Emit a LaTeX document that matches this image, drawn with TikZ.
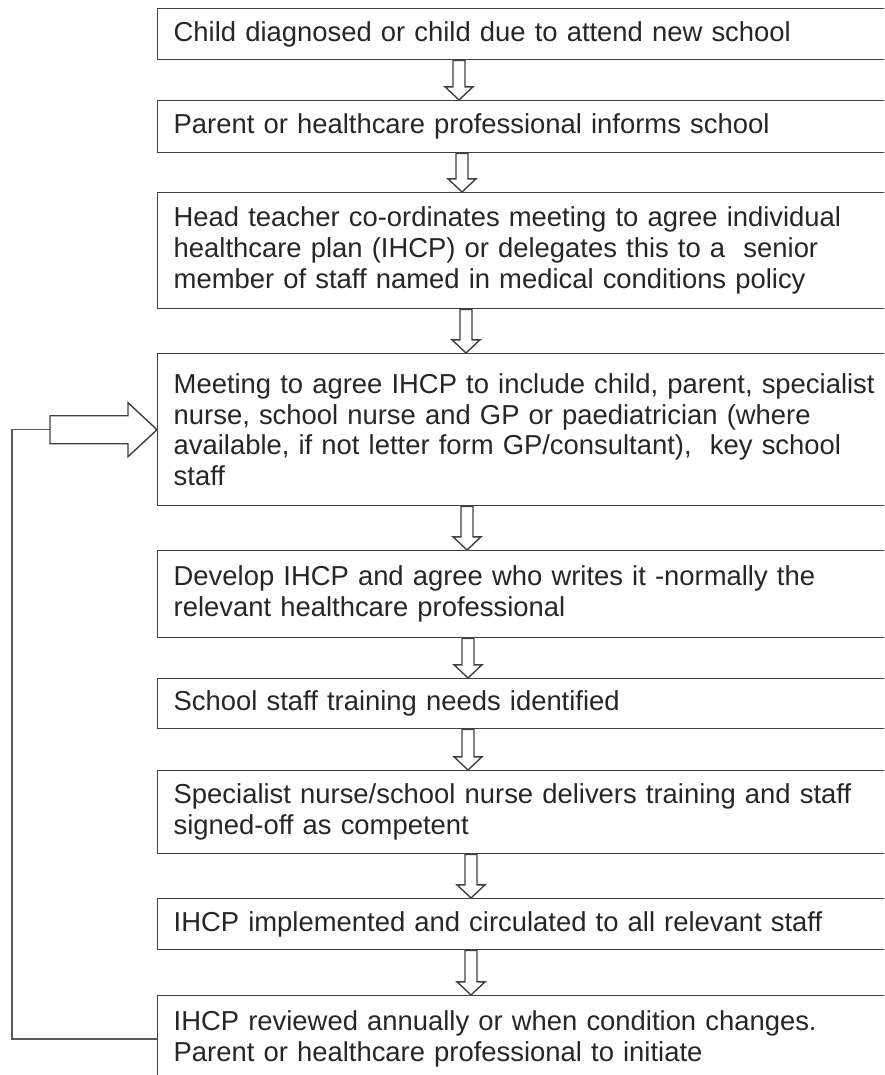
\documentclass[tikz,border=0pt]{standalone}
\usepackage{fontspec}
\setmainfont{Liberation Sans}
\usepackage{tikz}
\usetikzlibrary{calc,positioning}

\tikzset{
  stepbox/.style={draw=black!75, line width=1pt, anchor=north west, align=left,
    text width=17.8cm, inner xsep=0.4cm, inner ysep=0pt, text=black!85,
    font=\fontsize{19.5}{22}\selectfont},
  hollow/.style={draw=black!75, line width=1pt, line join=miter},
  feedback/.style={draw=black!65, line width=1.1pt}
}

% hollow block arrow from the bottom of one box to the top of the next
\newcommand{\blockarrow}[3]{%
  \draw[hollow] let \p1=($(#1.south west)+(#3,0)$), \p2=($(#2.north west)+(#3,0)$) in
    (\x1-0.15cm,\y1) -- (\x1+0.15cm,\y1) -- (\x1+0.15cm,\y2+0.33cm) -- (\x1+0.35cm,\y2+0.33cm)
    -- (\x2,\y2) -- (\x1-0.35cm,\y2+0.33cm) -- (\x1-0.15cm,\y2+0.33cm) -- cycle;}

\begin{document}
\begin{tikzpicture}
\useasboundingbox (0,0) rectangle (22.1,-26.875);
\clip (0,0) rectangle (22.1,-26.875);

% boxes
\node[stepbox, minimum height=1.275cm] (b1) at (3.925,-0.2) {Child diagnosed or child due to attend new school};
\node[stepbox, minimum height=1.3cm] (b2) at (3.925,-2.5) {Parent or healthcare professional informs school};
\node[stepbox, minimum height=2.9cm] (b3) at (3.925,-4.8) {Head teacher co-ordinates meeting to agree individual\\
  healthcare plan (IHCP) or delegates this to a\ \ senior\\
  member of staff named in medical conditions policy};
\node[stepbox, minimum height=3.8cm] (b4) at (3.925,-8.825) {Meeting to agree IHCP to include child, parent, specialist\\
  nurse, school nurse and GP or paediatrician (where\\
  available, if not letter form GP/consultant),\ \ key school\\
  staff};
\node[stepbox, minimum height=2.175cm] (b5) at (3.925,-13.75) {Develop IHCP and agree who writes it -normally the\\
  relevant healthcare professional};
\node[stepbox, minimum height=1.25cm] (b6) at (3.925,-16.95) {School staff training needs identified};
\node[stepbox, minimum height=2.075cm] (b7) at (3.925,-19.25) {Specialist nurse/school nurse delivers training and staff\\
  signed-off as competent};
\node[stepbox, minimum height=1.275cm] (b8) at (3.925,-22.45) {IHCP implemented and circulated to all relevant staff};
\node[stepbox, minimum height=2.175cm] (b9) at (3.925,-24.875) {IHCP reviewed annually or when condition changes.\\
  Parent or healthcare professional to initiate};

% arrows
\foreach \from/\to/\off in {b1/b2/7.55, b2/b3/7.625, b3/b4/7.725, b4/b5/7.75,
                            b5/b6/7.775, b6/b7/7.775, b7/b8/7.85, b8/b9/7.85}
  \blockarrow{\from}{\to}{\off};

% loop back
\coordinate (corner) at ($(b4.west)+(-3.625,0)$);
\coordinate (tail) at ($(b4.west)+(-2.675,0)$);
\draw[feedback] (b9.west) -| (corner) -- (tail);
\draw[hollow] let \p1=(b4.west) in
  (\x1-2.675cm,\y1+0.35cm) -- (\x1-0.725cm,\y1+0.35cm) -- (\x1-0.725cm,\y1+0.675cm) -- (\x1,\y1)
  -- (\x1-0.725cm,\y1-0.675cm) -- (\x1-0.725cm,\y1-0.35cm) -- (\x1-2.675cm,\y1-0.35cm) -- cycle;

\end{tikzpicture}
\end{document}
